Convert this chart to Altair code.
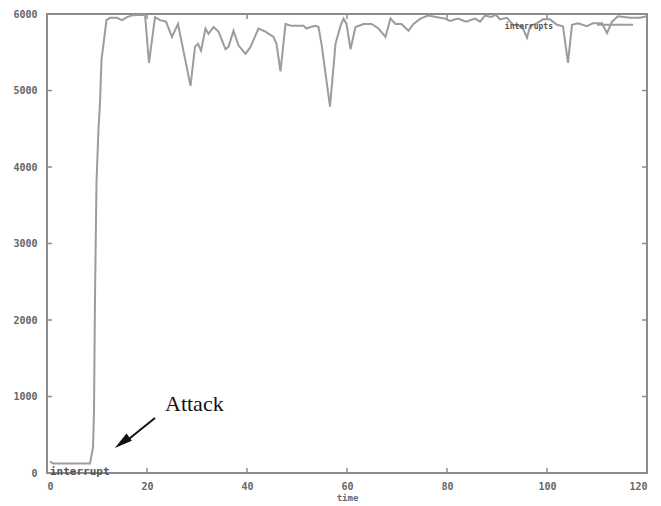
import altair as alt
import pandas as pd

# ---- data ----
time_vals = [0.6, 1.2, 8.6, 9.2, 9.4, 9.6, 9.9, 10.3, 10.6, 10.9, 11.9, 12.6, 14, 15, 16, 17.2,
             19.6, 20.4, 21.6, 22.6, 23.8, 25, 26.2, 28.7, 29.6, 30.2, 30.8, 31.7, 32.3, 33.3,
             34.3, 35.7, 36.3, 37.3, 38.3, 39.7, 40.7, 42.3, 43.7, 45.3, 45.9, 46.7, 47.7, 48.9,
             50.3, 51.3, 51.9, 52.7, 53.7, 54.3, 54.9, 56.6, 57.7, 58.7, 59.3, 59.9, 60.7, 61.7,
             63.3, 64.9, 66.3, 67.7, 68.7, 69.7, 70.9, 72.3, 73.3, 74.7, 76.2, 77.8, 79.6, 80.6,
             82.2, 83.8, 85.6, 86.6, 87.6, 88.8, 89.8, 90.6, 92, 93.2, 95, 96, 96.6, 98, 99.2,
             100.6, 102, 103.2, 104.2, 105, 106.2, 108, 109.2, 111, 112, 113, 114.2, 116.6,
             118.6, 120]
interrupts = [150, 125, 125, 330, 800, 2300, 3800, 4500, 4840, 5400, 5920, 5950, 5950, 5920,
              5960, 5985, 5990, 5360, 5960, 5920, 5900, 5700, 5870, 5060, 5570, 5610, 5520,
              5810, 5740, 5830, 5770, 5540, 5570, 5780, 5590, 5480, 5570, 5810, 5770, 5700,
              5610, 5250, 5870, 5845, 5845, 5845, 5810, 5830, 5845, 5830, 5610, 4790, 5610,
              5845, 5940, 5870, 5540, 5830, 5870, 5870, 5810, 5700, 5940, 5870, 5870, 5780,
              5870, 5940, 5980, 5960, 5940, 5910, 5940, 5900, 5940, 5900, 5980, 5960, 5990,
              5930, 5950, 5860, 5840, 5690, 5840, 5880, 5930, 5930, 5860, 5840, 5360, 5860,
              5880, 5840, 5880, 5880, 5750, 5900, 5970, 5950, 5950, 5970]

x_ticks = [0, 20, 40, 60, 80, 100, 120]
y_ticks = [0, 1000, 2000, 3000, 4000, 5000, 6000]

# annotations (data coordinates)
attack_text = ["Attack"]
attack_pos = [(23.6, 905)]
arrow_tail = [(21.6, 719)]
arrow_base = [(15.3, 390)]
arrow_head = [(15.0, 398)]
key_text = ["interrupts"]
key_pos = [(101.2, 5830)]
key_line = [(110.0, 117.2, 5860)]
corner_text = ["interrupt"]
corner_pos = [(0.6, 10)]

W, H = 600, 459

df = pd.DataFrame({"t": time_vals, "v": interrupts})

xs = alt.Scale(domain=[0, 120], nice=False, zero=False)
ys = alt.Scale(domain=[0, 6000], nice=False)

FONT = "DejaVu Sans Mono"
GRAY = "#8c8c8c"
LBL = "#666666"

line = alt.Chart(df).mark_line(color="#9c9c9c", strokeWidth=2).encode(
    x=alt.X("t:Q", scale=xs, axis=alt.Axis(
        values=x_ticks, grid=False, domain=False, ticks=False, labelPadding=8,
        labelFont=FONT, labelFontSize=10, labelFontWeight="bold", labelColor=LBL,
        title="time", titleFont=FONT, titleFontSize=9, titleFontWeight="bold",
        titleColor=LBL, titlePadding=2)),
    y=alt.Y("v:Q", scale=ys, axis=alt.Axis(
        values=y_ticks, format="d", grid=False, domain=False, ticks=False, labelPadding=10,
        labelFont=FONT, labelFontSize=10, labelFontWeight="bold", labelColor=LBL, title=None)),
)

# inward tick marks on all four sides
xt_df = pd.DataFrame({"t": x_ticks})
yt_df = pd.DataFrame({"v": y_ticks})
tick_style = dict(color=GRAY, thickness=1.5, size=5, opacity=1)
xt_bottom = alt.Chart(xt_df).mark_tick(orient="vertical", **tick_style).encode(
    x=alt.X("t:Q", scale=xs, axis=None), y=alt.value(H - 2.5))
xt_top = alt.Chart(xt_df).mark_tick(orient="vertical", **tick_style).encode(
    x=alt.X("t:Q", scale=xs, axis=None), y=alt.value(2.5))
yt_left = alt.Chart(yt_df).mark_tick(orient="horizontal", **tick_style).encode(
    y=alt.Y("v:Q", scale=ys, axis=None), x=alt.value(2.5))
yt_right = alt.Chart(yt_df).mark_tick(orient="horizontal", **tick_style).encode(
    y=alt.Y("v:Q", scale=ys, axis=None), x=alt.value(W - 2.5))

attack_df = pd.DataFrame({"t": [p[0] for p in attack_pos], "v": [p[1] for p in attack_pos],
                          "label": attack_text})
attack = alt.Chart(attack_df).mark_text(font="Liberation Serif", fontSize=22, color="#111111",
                                        align="left", baseline="middle").encode(
    x=alt.X("t:Q", scale=xs, axis=None), y=alt.Y("v:Q", scale=ys, axis=None), text="label:N")

shaft_df = pd.DataFrame({"t": [arrow_tail[0][0]], "v": [arrow_tail[0][1]],
                         "t2": [arrow_base[0][0]], "v2": [arrow_base[0][1]]})
shaft = alt.Chart(shaft_df).mark_rule(color="#111111", strokeWidth=2).encode(
    x=alt.X("t:Q", scale=xs, axis=None), y=alt.Y("v:Q", scale=ys, axis=None),
    x2="t2:Q", y2="v2:Q")

head_df = pd.DataFrame({"t": [arrow_head[0][0]], "v": [arrow_head[0][1]]})
head = alt.Chart(head_df).mark_point(shape="M0,-1L0.5,1L-0.5,1Z", filled=True, color="#111111",
                                     opacity=1, size=324, angle=233).encode(
    x=alt.X("t:Q", scale=xs, axis=None), y=alt.Y("v:Q", scale=ys, axis=None))

key_df = pd.DataFrame({"t": [key_pos[0][0]], "v": [key_pos[0][1]], "label": key_text})
key_lbl = alt.Chart(key_df).mark_text(font=FONT, fontSize=8, fontWeight="bold", color="#555555",
                                      align="right", baseline="middle").encode(
    x=alt.X("t:Q", scale=xs, axis=None), y=alt.Y("v:Q", scale=ys, axis=None), text="label:N")

keyl_df = pd.DataFrame({"t": [key_line[0][0]], "t2": [key_line[0][1]], "v": [key_line[0][2]]})
key_ln = alt.Chart(keyl_df).mark_rule(color="#9c9c9c", strokeWidth=2).encode(
    x=alt.X("t:Q", scale=xs, axis=None), x2="t2:Q", y=alt.Y("v:Q", scale=ys, axis=None))

corner_df = pd.DataFrame({"t": [corner_pos[0][0]], "v": [corner_pos[0][1]], "label": corner_text})
corner = alt.Chart(corner_df).mark_text(font=FONT, fontSize=11, fontWeight="bold", color="#555555",
                                        align="left", baseline="middle").encode(
    x=alt.X("t:Q", scale=xs, axis=None), y=alt.Y("v:Q", scale=ys, axis=None), text="label:N")

chart = alt.layer(line, xt_bottom, xt_top, yt_left, yt_right, attack, shaft, head,
                  key_lbl, key_ln, corner).resolve_axis(
    x="independent", y="independent"
).properties(
    width=W, height=H,
    autosize=alt.AutoSizeParams(type="none"),
    padding={"left": 39, "top": 6, "right": 6, "bottom": 31},
    background="white",
).configure_view(stroke=GRAY, strokeWidth=2)

chart.save("out.html", embed_options={"renderer": "svg", "actions": False})
